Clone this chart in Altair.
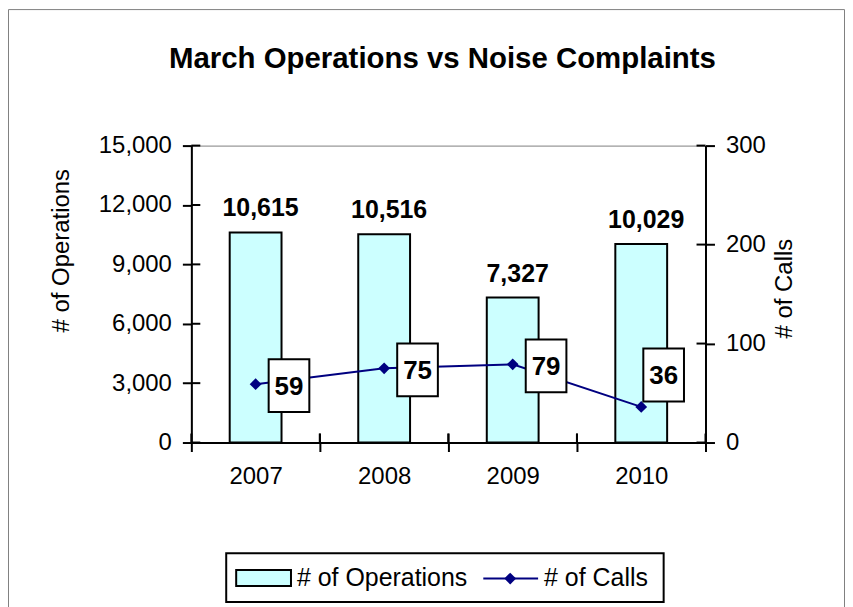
import altair as alt
import pandas as pd

# ---- data ----
years = ["2007", "2008", "2009", "2010"]
operations = [10615, 10516, 7327, 10029]
calls = [59, 75, 79, 36]
ops_ticks = [0, 3000, 6000, 9000, 12000, 15000]
calls_ticks = [0, 100, 200, 300]
series_names = ["# of Operations", "# of Calls"]
title_text = "March Operations vs Noise Complaints"

df = pd.DataFrame({"year": years, "ops": operations, "calls": calls})
ops_tick_df = pd.DataFrame({"ops": ops_ticks})
calls_tick_df = pd.DataFrame({"calls": calls_ticks})

FONT = "Liberation Sans"
W, H = 516, 298
HALF_BAND = W / len(years) / 2

x_enc = alt.X(
    "year:N",
    scale=alt.Scale(domain=years, paddingInner=0, paddingOuter=0),
    axis=alt.Axis(title=None, tickBand="extent", labelAngle=0, labelPadding=13),
)

ops_scale = alt.Scale(domain=[0, 15000], nice=False)
calls_scale = alt.Scale(domain=[0, 300], nice=False)

y_ops = alt.Y(
    "ops:Q",
    scale=ops_scale,
    axis=alt.Axis(
        values=ops_ticks, format=",", labelExpr="format(datum.value, ',')",
        title=series_names[0], orient="left",
        titleX=-130, titleY=105, titleAngle=-90, titleAlign="center",
        titleBaseline="middle", labelPadding=11,
    ),
)
y_ops_plain = alt.Y("ops:Q", scale=ops_scale, axis=None)

y_calls = alt.Y(
    "calls:Q",
    scale=calls_scale,
    axis=alt.Axis(
        values=calls_ticks, format="d", title=series_names[1], orient="right",
        titleX=79, titleY=143, titleAngle=-90, titleAlign="center",
        titleBaseline="middle", labelPadding=11,
    ),
)
y_calls_plain = alt.Y("calls:Q", scale=calls_scale, axis=None)

# ---- bars ----
bars = alt.Chart(df).mark_bar(
    size=52, fill="#CCFFFF", stroke="black", strokeWidth=2
).encode(x=x_enc, y=y_ops)

bar_labels = alt.Chart(df).mark_text(
    font=FONT, fontSize=25, fontWeight="bold", color="black",
    baseline="alphabetic", dy=-16, dx=5,
).encode(x=x_enc, y=y_ops_plain, text=alt.Text("ops:Q", format=","))

left_inner_ticks = alt.Chart(ops_tick_df).mark_rule(
    color="black", strokeWidth=2
).encode(y=y_ops_plain, x=alt.value(0), x2=alt.value(9))

x_inner_left = alt.Chart(df).mark_rule(
    color="black", strokeWidth=2, xOffset=-HALF_BAND, x2Offset=-HALF_BAND
).encode(x=x_enc, y=alt.value(H - 9), y2=alt.value(H))
x_inner_right = alt.Chart(df).mark_rule(
    color="black", strokeWidth=2, xOffset=HALF_BAND, x2Offset=HALF_BAND
).encode(x=x_enc, y=alt.value(H - 9), y2=alt.value(H))

# ---- line ----
line = alt.Chart(df).mark_line(color="#000080", strokeWidth=2).encode(x=x_enc, y=y_calls)
diamonds = alt.Chart(df).mark_point(
    shape="diamond", filled=True, size=140, color="#000080", opacity=1
).encode(x=x_enc, y=y_calls_plain)

BOX = "M-0.77,-1L0.77,-1L0.77,1L-0.77,1Z"

def box_layer(flt, xo, yo):
    b = alt.Chart(df).transform_filter(flt).mark_point(
        shape=BOX, size=2809, filled=True, fill="white", stroke="black",
        strokeWidth=2, opacity=1, fillOpacity=1, strokeOpacity=1,
        xOffset=xo, yOffset=yo,
    ).encode(x=x_enc, y=y_calls_plain)
    t = alt.Chart(df).transform_filter(flt).mark_text(
        font=FONT, fontSize=26, fontWeight="bold", color="black",
        align="center", baseline="middle", dx=xo, dy=yo + 1,
    ).encode(x=x_enc, y=y_calls_plain, text="calls:Q")
    return [b, t]

right_inner_ticks = alt.Chart(calls_tick_df).mark_rule(
    color="black", strokeWidth=2
).encode(y=y_calls_plain, x=alt.value(W - 9), x2=alt.value(W))

# ---- title, legend, outer frame ----
one = pd.DataFrame({"a": [0]})
frame = alt.Chart(one).mark_rect(fill=None, stroke="#808080", strokeWidth=1).encode(
    x=alt.value(-183.5), x2=alt.value(655.5), y=alt.value(-136.5), y2=alt.value(480)
)
title_mark = alt.Chart(pd.DataFrame({"t": [title_text]})).mark_text(
    font=FONT, fontSize=29.5, fontWeight="bold", color="black",
    align="center", baseline="alphabetic",
).encode(text="t:N", x=alt.value(252), y=alt.value(-78))
leg_box = alt.Chart(one).mark_rect(fill="white", stroke="black", strokeWidth=2).encode(
    x=alt.value(35), x2=alt.value(474), y=alt.value(409), y2=alt.value(458)
)
leg_swatch = alt.Chart(one).mark_rect(fill="#CCFFFF", stroke="black", strokeWidth=2).encode(
    x=alt.value(45), x2=alt.value(100), y=alt.value(426), y2=alt.value(442)
)
leg_df = pd.DataFrame({"label": series_names})
leg_text1 = alt.Chart(leg_df).transform_filter(alt.datum.label == series_names[0]).mark_text(
    font=FONT, fontSize=25, color="black", align="left", baseline="alphabetic"
).encode(text="label:N", x=alt.value(106), y=alt.value(442))
leg_line = alt.Chart(one).mark_rule(color="#000080", strokeWidth=2).encode(
    x=alt.value(293), x2=alt.value(348), y=alt.value(434.5)
)
leg_diamond = alt.Chart(one).mark_point(
    shape="diamond", filled=True, size=140, color="#000080", opacity=1
).encode(x=alt.value(320), y=alt.value(434.5))
leg_text2 = alt.Chart(leg_df).transform_filter(alt.datum.label == series_names[1]).mark_text(
    font=FONT, fontSize=25, color="black", align="left", baseline="alphabetic"
).encode(text="label:N", x=alt.value(354), y=alt.value(442))

chart = alt.layer(
    frame, title_mark,
    bars, bar_labels, left_inner_ticks, x_inner_left, x_inner_right,
    line, diamonds,
    *box_layer(alt.datum.year != "2010", 33.5, 1.5),
    *box_layer(alt.datum.year == "2010", 22.5, -32),
    right_inner_ticks,
    leg_box, leg_swatch, leg_text1, leg_line, leg_diamond, leg_text2,
).resolve_scale(
    y="independent"
).properties(
    width=W, height=H,
    background="white",
    autosize=alt.AutoSizeParams(type="none"),
    padding={"left": 184, "top": 137, "right": 140, "bottom": 175},
).configure_view(
    stroke="#808080", strokeWidth=1
).configure_axis(
    domainColor="black", domainWidth=2, tickColor="black", tickWidth=2, tickSize=9,
    labelFont=FONT, labelFontSize=24, labelColor="black",
    titleFont=FONT, titleFontSize=24, titleFontWeight="normal", titleColor="black",
    grid=False,
)

chart.save("out.html", embed_options={"renderer": "svg", "actions": False})
